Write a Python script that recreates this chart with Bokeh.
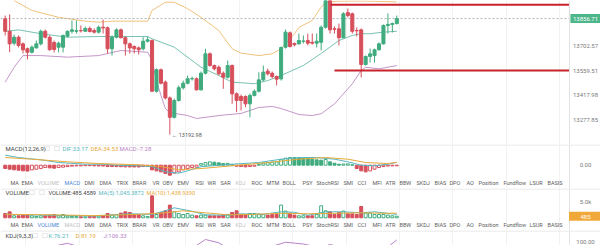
from bokeh.plotting import figure
from bokeh.layouts import column
from bokeh.models import Range1d, FixedTicker, Span, Label, ColumnDataSource
from bokeh.embed import file_html
from bokeh.resources import INLINE

# ---------------- data ----------------
opens = [13855, 13784, 13716, 13750, 13712, 13684, 13664, 13689, 13712, 13784,
         13750, 13720, 13693, 13693, 13756, 13784, 13784, 13788, 13784, 13800,
         13788, 13779, 13807, 13804, 13684, 13750, 13792, 13747, 13712, 13697,
         13689, 13684, 13727, 13731, 13441, 13564, 13493, 13403, 13292, 13388,
         13461, 13487, 13512, 13512, 13449, 13544, 13655, 13588, 13578, 13544,
         13521, 13588, 13426, 13411, 13411, 13369, 13417, 13441, 13506, 13556,
         13544, 13525, 13512, 13693, 13775, 13714, 13712, 13727, 13731, 13721,
         13716, 13721, 13807, 14006, 13798, 13798, 13747, 13891, 13884, 13788,
         13792, 13594, 13640, 13645, 13678, 13712, 13817, 13823, 13828]
highs = [13874, 13880, 13765, 13760, 13720, 13691, 13703, 13731, 13794, 13794,
         13760, 13731, 13725, 13765, 13788, 13846, 13846, 13817, 13811, 13811,
         13800, 13817, 13851, 13811, 13760, 13800, 13800, 13754, 13720, 13703,
         13697, 13750, 13754, 13737, 13571, 13571, 13502, 13411, 13399, 13474,
         13502, 13531, 13525, 13520, 13554, 13684, 13663, 13594, 13588, 13554,
         13617, 13594, 13434, 13422, 13417, 13428, 13451, 13550, 13588, 13571,
         13554, 13531, 13697, 13794, 13783, 13720, 13771, 13760, 13771, 13771,
         13771, 13817, 14029, 14017, 13811, 13828, 13893, 13914, 13891, 13806,
         13800, 13645, 13685, 13685, 13720, 13823, 13886, 13834, 13874]
lows = [13760, 13664, 13703, 13691, 13657, 13623, 13657, 13685, 13703, 13743,
        13674, 13663, 13663, 13663, 13748, 13771, 13771, 13777, 13780, 13777,
        13771, 13771, 13771, 13657, 13645, 13743, 13743, 13645, 13657, 13657,
        13651, 13674, 13720, 13439, 13434, 13480, 13394, 13192.98, 13285, 13382,
        13451, 13480, 13502, 13445, 13445, 13537, 13582, 13560, 13531, 13455,
        13514, 13369, 13321, 13331, 13350, 13292, 13411, 13434, 13497, 13531,
        13514, 13474, 13502, 13685, 13691, 13697, 13708, 13714, 13703, 13708,
        13691, 13674, 13800, 13771, 13771, 13703, 13743, 13863, 13771, 13754,
        13520, 13588, 13605, 13605, 13674, 13708, 13771, 13777, 13823]
closes = [13784, 13712, 13750, 13703, 13678, 13664, 13693, 13712, 13784, 13750,
          13678, 13680, 13716, 13760, 13784, 13792, 13787, 13787, 13800, 13783,
          13779, 13807, 13803, 13684, 13750, 13792, 13747, 13712, 13689, 13684,
          13678, 13727, 13735, 13441, 13564, 13487, 13403, 13292, 13388, 13461,
          13487, 13512, 13514, 13449, 13544, 13655, 13588, 13569, 13541, 13521,
          13588, 13426, 13388, 13388, 13369, 13417, 13441, 13506, 13550, 13541,
          13525, 13510, 13691, 13779, 13697, 13707, 13731, 13728, 13716, 13716,
          13727, 13807, 14006, 13792, 13796, 13747, 13884, 13874, 13784, 13787,
          13594, 13640, 13655, 13678, 13712, 13817, 13823, 13828, 13856.71]
volumes = [1320, 1840, 615, 615, 830, 830, 615, 400, 615, 615,
           830, 1010, 615, 1010, 520, 400, 400, 310, 310, 400,
           400, 520, 615, 1320, 830, 1010, 1440, 1840, 1630, 830,
           1010, 615, 400, 6750, 1010, 1630, 2150, 3900, 1840, 1320,
           1010, 1320, 830, 615, 830, 830, 615, 615, 615, 1010,
           1010, 1630, 2150, 1010, 1010, 1320, 1320, 1140, 1010, 830,
           1010, 1010, 3900, 2060, 1440, 830, 615, 615, 615, 615,
           1010, 3680, 2150, 1840, 1010, 1630, 2060, 1230, 1230, 1010,
           3470, 1440, 1440, 1010, 1010, 1010, 830, 615, 485.4589]
macd_hist = [-40, -48, -56, -60, -68, -70, -56, -48, -40, -28,
             -32, -36, -28, -24, -16, -12, -8, -8, -6, -6,
             -8, -9, -10, -16, -16.5, -17, -18, -20, -20.5, -21,
             -21.5, -16, -15, -56, -68, -80, -100, -120, -96, -80,
             -56, -40, -28, -24, 18, 32, 40, 36, 28, 20,
             22, 6, -12, -16, -20, -16, -12, 8, 24, 30,
             36, 40, 66, 84, 92, 90, 88, 84, 80, 72,
             64, 60, 68, 40, 24, 12, 14, 16, 4, -40,
             -68, -80, -68, -48, -28, -16, -10, -8, -7.28]
dif_idx = [0, 3, 8, 12, 18, 22, 25, 30, 33, 36, 39, 41, 44, 51, 57, 62, 66, 70, 74, 77, 80, 83, 86, 88]
dif_vals = [120, 92, 65, 32, 12, 12, 0, -7, -16, -79, -96, -67, -18, 12, 32, 72, 92, 92, 72, 41, 0, -7, 12, 33.17]
dea_idx = [0, 6, 14, 21, 30, 35, 39, 44, 51, 59, 66, 72, 77, 81, 86, 88]
dea_vals = [92, 72, 41, 20, 5, -16, -55, -40, -7, 32, 72, 92, 72, 32, 20, 34.53]
boll_up_idx = [0, 2, 6, 12, 18, 21, 24, 32, 33, 36, 38, 41, 44, 48, 51, 53, 57, 60, 62, 65, 66, 69, 71, 72, 75, 80, 84, 88]
boll_up = [14006, 13960, 13903, 13864, 13842, 13836, 13842, 13842, 13903, 13950, 13950, 13913, 13864, 13788,
           13684, 13659, 13645, 13655, 13684, 13770, 13806, 13846, 13922, 13950, 13956, 13957, 13955, 13952]
boll_mid_idx = [0, 3, 8, 14, 21, 32, 33, 38, 44, 48, 51, 56, 59, 62, 67, 71, 75, 78, 80, 82, 85, 88]
boll_mid = [13783, 13792, 13770, 13750, 13754, 13754, 13741, 13693, 13578, 13531, 13493, 13484, 13502, 13531,
            13588, 13657, 13731, 13760, 13770, 13770, 13779, 13784]
boll_low_idx = [0, 2, 4, 8, 14, 21, 26, 32, 33, 34, 35, 36, 37, 41, 43, 48, 53, 57, 60, 62, 66, 69, 71, 74, 78, 80, 81, 84, 88]
boll_low = [13493, 13578, 13645, 13645, 13636, 13645, 13674, 13664, 13617, 13502, 13417, 13342, 13319, 13302, 13285,
            13302, 13314, 13348, 13354, 13342, 13308, 13302, 13312, 13369, 13484, 13560, 13578, 13569, 13588]
vol_ma5_idx = [0, 10, 20, 28, 33, 36, 38, 42, 45, 50, 53, 58, 62, 65, 68, 72, 76, 80, 83, 88]
vol_ma5 = [1070, 770, 550, 1230, 1070, 2150, 3070, 2000, 920, 770, 1230, 1070, 1840, 1690, 770, 1840, 1840, 1540, 1840, 1045.3872]
vol_ma10_idx = [0, 10, 20, 30, 36, 40, 45, 50, 56, 62, 68, 74, 80, 86, 88]
vol_ma10 = [1070, 920, 680, 1070, 1540, 2150, 1540, 920, 1070, 1380, 1230, 1380, 1540, 1380, 1438.9390]
kdj_j_idx = [0, 8, 14, 20, 28, 34, 38, 41, 45, 48, 51, 54, 58, 63, 67, 71, 73, 77, 81, 84, 88]
kdj_j = [60, 70, 93, 60, 40, 10, -5, 60, 108, 95, 60, 30, 70, 97, 90, 75, 88, 70, 20, 50, 106.33]
kdj_k_last = 76.21
kdj_d_last = 81.19
price_ticks = [13702.57, 13559.51, 13417.98, 13277.85]
macd_ticks = [0]
vol_ticks = [5000]
kdj_ticks = [100]
level_prices = [13935.40, 13559.51]
level_starts = [73.1, 74.0]
menu_words = ["MA", "EMA", "VOLUME", "MACD", "DMI", "DMA", "TRIX", "BRAR", "VR", "OBV", "EMV", "RSI", "WR",
              "SAR", "KDJ", "ROC", "MTM", "BOLL", "PSY", "StochRSI", "SMI", "CCI", "MFI", "ATR", "BBW", "SKDJ",
              "BIAS", "DPO", "AO", "Position", "Fundflow", "LSUR", "BASIS"]

# ---------------- layout / style ----------------
menu_x = [10, 21, 37, 64, 84, 99, 116, 132, 152, 162, 177, 195, 207, 220, 235, 251, 266, 282, 302, 316,
          343, 357, 372, 385, 399, 416, 434, 449, 466, 478, 503, 529, 547]
FONT = "Roboto"
GREEN = "#3fab7e"
RED = "#d64f5b"
TEAL = "#56b7c0"
ORANGE = "#e8a93a"
PURPLE = "#b884c8"
BLUE = "#4d86d6"
LIGHT = "#c2c2c2"
MENU = "#5c5c5c"
W = 600
AXIS_PX = 569          # pixel where the price-scale column starts
LABEL_PX = 585         # centre of the scale labels
X0, DX = 4.7, 4.45
xr = Range1d(-X0 / DX, (W - X0) / DX)
BORDER_X = (AXIS_PX - X0) / DX
grid_ticks = [4.6 + 12 * k for k in range(11)]
NB = "\u00a0"


def pane(h, y0, y1):
    p = figure(width=W, height=h, x_range=xr, y_range=Range1d(y0, y1),
               x_axis_location=None, y_axis_location=None,
               output_backend="svg", toolbar_location=None,
               min_border_left=0, min_border_right=0, min_border_top=0, min_border_bottom=0)
    p.outline_line_color = None
    p.background_fill_color = "white"
    p.border_fill_color = "white"
    p.xgrid.ticker = FixedTicker(ticks=grid_ticks)
    p.xgrid.grid_line_color = "#f2f2f2"
    p.ygrid.grid_line_color = None
    p.add_layout(Span(location=BORDER_X, dimension="height", line_color="#e2e2e2", line_width=1))
    return p


def scale_labels(p, ticks, fmt):
    for t in ticks:
        p.add_layout(Label(x=LABEL_PX, x_units="screen", y=t, text=fmt(t),
                           text_font=FONT, text_font_size="6px", text_color="#7a7a7a",
                           text_align="center", text_baseline="middle"))


def tag(p, y, s, bg):
    p.add_layout(Label(x=LABEL_PX, x_units="screen", y=y, text=s,
                       text_font=FONT, text_font_size="6px", text_color="white",
                       background_fill_color=bg, padding=1,
                       text_align="center", text_baseline="middle"))


def txt(p, h, x, ytop, s, color, size="6px"):
    p.add_layout(Label(x=x, y=h - ytop, x_units="screen", y_units="screen", text=s,
                       text_color=color, text_font=FONT, text_font_size=size,
                       text_baseline="middle", text_align="left"))


def separator(p, y1, per_px):
    p.add_layout(Span(location=y1 - 0.5 * per_px, dimension="width", line_color="#e4e4e4", line_width=1))


# ---------------- main price pane ----------------
MH = 144
PPX = 5.72
main = pane(MH, 13960 - PPX * MH, 13960)
scale_labels(main, price_ticks, lambda t: "%.2f" % t)

n = len(opens)
xs = list(range(n))
up = [c >= o for o, c in zip(opens, closes)]
src = ColumnDataSource(dict(
    x=xs, h=highs, l=lows,
    top=[max(o, c) for o, c in zip(opens, closes)],
    bot=[min(o, c) for o, c in zip(opens, closes)],
    color=[GREEN if u else RED for u in up]))

main.line(boll_up_idx, boll_up, line_color="#f0c27c", line_width=1)
main.line(boll_mid_idx, boll_mid, line_color="#78c3b3", line_width=1)
main.line(boll_low_idx, boll_low, line_color="#c596c9", line_width=1)
main.segment(x0=[xr.start], y0=[closes[-1]], x1=[BORDER_X], y1=[closes[-1]],
             line_color="#a9b3ba", line_dash="2 2", line_width=1)
main.segment(x0="x", y0="h", x1="x", y1="l", line_color="color", line_width=1, source=src)
main.vbar(x="x", width=0.68, top="top", bottom="bot", fill_color="color", line_color="color", source=src)
main.segment(x0=level_starts, y0=level_prices, x1=[BORDER_X] * len(level_prices), y1=level_prices,
             line_color="#c8222d", line_width=2)
lo_i = lows.index(min(lows))
main.add_layout(Label(x=lo_i, y=lows[lo_i], text="\u2190 %.2f" % lows[lo_i], x_offset=2,
                      text_font=FONT, text_font_size="5.5px", text_color="#555555",
                      text_baseline="middle"))
tag(main, closes[-1], NB + "%.2f" % closes[-1] + NB, "#4db68a")

# ---------------- MACD pane ----------------
AH = 44
MPX = 12
macd = pane(AH, -(AH - 20.7) * MPX, 20.7 * MPX)
separator(macd, 20.7 * MPX, MPX)
scale_labels(macd, macd_ticks, lambda t: "%.2f" % t)
hcol = [GREEN if v >= 0 else RED for v in macd_hist]
hfill = [hcol[i] if (i == 0 or macd_hist[i] < macd_hist[i - 1]) else "white" for i in range(n)]
msrc = ColumnDataSource(dict(x=xs, v=macd_hist, lc=hcol, fc=hfill))
macd.vbar(x="x", width=0.66, top="v", bottom=0, fill_color="fc", line_color="lc", source=msrc)
macd.line(dif_idx, dif_vals, line_color=TEAL, line_width=1)
macd.line(dea_idx, dea_vals, line_color=ORANGE, line_width=1)
txt(macd, AH, 5, 4.3, "MACD(12,26,9)", "#444444")
txt(macd, AH, 44, 4.3, "\u25a1", "#b8b8b8", "8px")
txt(macd, AH, 54, 4.3, "\u25a1", "#b8b8b8", "8px")
txt(macd, AH, 62, 4.3, "DIF:%.2f" % dif_vals[-1], TEAL)
txt(macd, AH, 90, 4.3, "DEA:%.2f" % dea_vals[-1], ORANGE)
txt(macd, AH, 119, 4.3, "MACD:%.2f" % macd_hist[-1], PURPLE)
for w, x in zip(menu_words, menu_x):
    c = BLUE if w == "MACD" else (LIGHT if w in ("VOLUME", "KDJ") else MENU)
    txt(macd, AH, x, 38.3, w, c, "5.5px")

# ---------------- VOLUME pane ----------------
VH = 42
VPX = 307
vol = pane(VH, -(VH - 29.3) * VPX, 29.3 * VPX)
separator(vol, 29.3 * VPX, VPX)
scale_labels(vol, vol_ticks, lambda t: "%.1fk" % (t / 1000))
vsrc = ColumnDataSource(dict(x=xs, v=volumes,
                             lc=[GREEN if u else RED for u in up],
                             fc=["white" if u else RED for u in up]))
vol.vbar(x="x", width=0.66, top="v", bottom=0, fill_color="fc", line_color="lc", source=vsrc)
vol.line(vol_ma5_idx, vol_ma5, line_color=TEAL, line_width=1)
vol.line(vol_ma10_idx, vol_ma10, line_color=ORANGE, line_width=1)
txt(vol, VH, 5, 4.3, "VOLUME", "#444444")
txt(vol, VH, 29, 4.3, "\u25a1", "#b8b8b8", "8px")
txt(vol, VH, 39, 4.3, "\u25a1", "#b8b8b8", "8px")
txt(vol, VH, 48, 4.3, "VOLUME:%.4f" % volumes[-1], "#444444", "5.7px")
txt(vol, VH, 98, 4.3, "MA(5):{:,.4f}".format(vol_ma5[-1]), TEAL, "5.7px")
txt(vol, VH, 146, 4.3, "MA(10):{:,.4f}".format(vol_ma10[-1]), ORANGE, "5.7px")
for w, x in zip(menu_words, menu_x):
    c = BLUE if w == "VOLUME" else (LIGHT if w in ("MACD", "KDJ") else MENU)
    txt(vol, VH, x, 36.3, w, c, "5.5px")
tag(vol, volumes[-1], NB * 7 + "%.0f" % volumes[-1] + NB * 7, "#f0a838")

# ---------------- KDJ pane ----------------
KH = 15
KPX = 4
kdj = pane(KH, 100 - 4 * KPX, 100 + 11 * KPX)
separator(kdj, 100 + 11 * KPX, KPX)
scale_labels(kdj, kdj_ticks, lambda t: "%.2f" % t)
kdj.line(kdj_j_idx, kdj_j, line_color=PURPLE, line_width=1)
txt(kdj, KH, 5, 5, "KDJ(9,3,3)", "#444444")
txt(kdj, KH, 32, 5, "\u25a1", "#b8b8b8", "8px")
txt(kdj, KH, 42, 5, "\u25a1", "#b8b8b8", "8px")
txt(kdj, KH, 48, 5, "K:%.2f" % kdj_k_last, TEAL)
txt(kdj, KH, 75, 5, "D:%.2f" % kdj_d_last, ORANGE)
txt(kdj, KH, 103, 5, "J:%.2f" % kdj_j[-1], PURPLE)

layout = column(main, macd, vol, kdj, spacing=0)
open("out.html", "w").write(file_html(layout, INLINE))
